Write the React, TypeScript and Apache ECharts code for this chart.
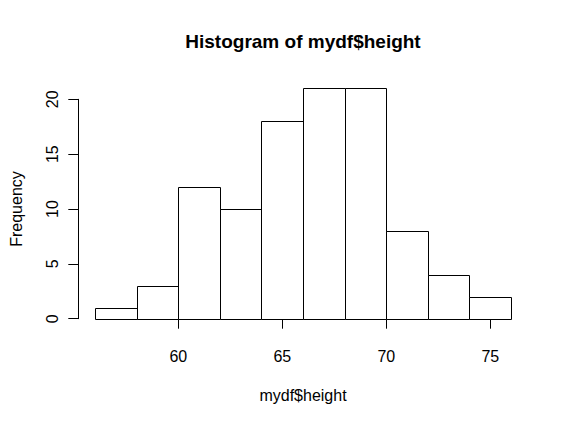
import React, { useEffect, useRef } from "react";
import * as echarts from "echarts";

const binStarts = [56, 58, 60, 62, 64, 66, 68, 70, 72, 74];
const binWidth = 2;
const counts = [1, 3, 12, 10, 18, 21, 21, 8, 4, 2];
const xTicks = [60, 65, 70, 75];
const yTicks = [0, 5, 10, 15, 20];

const FONT = "'Liberation Sans', Arial, Helvetica, sans-serif";

export default function App() {
  const ref = useRef<HTMLDivElement>(null);
  useEffect(() => {
    document.body.style.margin = "0";
    const chart = echarts.init(ref.current!, undefined, { renderer: "svg" });
    const data = binStarts.map((s, i) => [s, s + binWidth, counts[i]]);
    chart.setOption({
      animation: false,
      backgroundColor: "#ffffff",
      textStyle: { fontFamily: FONT, color: "#000" },
      graphic: [
        {
          type: "text",
          x: 303,
          y: 41,
          style: {
            text: "Histogram of mydf$height",
            fontFamily: FONT,
            fontWeight: "bold",
            fontSize: 19,
            fill: "#000",
            textAlign: "center",
            textVerticalAlign: "middle",
          },
        },
      ],
      grid: [
        { left: 95.3, right: 57.3, top: 99.3, bottom: 107.3 },
        { left: 178.3, right: 77.7, top: 99.3, bottom: 107.3 },
      ],
      xAxis: [
        {
          gridIndex: 0,
          type: "value",
          min: 56,
          max: 76,
          show: true,
          axisLine: { show: false },
          axisTick: { show: false },
          axisLabel: { show: false },
          splitLine: { show: false },
          name: "mydf$height",
          nameLocation: "middle",
          nameGap: 69,
          nameTextStyle: { fontFamily: FONT, fontSize: 16, color: "#000" },
        },
        {
          gridIndex: 1,
          type: "value",
          min: xTicks[0],
          max: xTicks[xTicks.length - 1],
          interval: 5,
          offset: 9,
          axisLine: { show: true, lineStyle: { color: "#000", width: 1 } },
          axisTick: { show: true, length: 10, lineStyle: { color: "#000" } },
          axisLabel: { show: true, margin: 21, fontFamily: FONT, fontSize: 16, color: "#000" },
          splitLine: { show: false },
        },
      ],
      yAxis: [
        {
          gridIndex: 0,
          type: "value",
          min: yTicks[0],
          max: yTicks[yTicks.length - 1],
          interval: 5,
          offset: 17,
          axisLine: { show: true, lineStyle: { color: "#000", width: 1 } },
          axisTick: { show: true, length: 10, lineStyle: { color: "#000" } },
          axisLabel: { show: true, rotate: 90, margin: 18, fontFamily: FONT, fontSize: 16, color: "#000" },
          splitLine: { show: false },
          name: "Frequency",
          nameLocation: "middle",
          nameGap: 54,
          nameRotate: 90,
          nameTextStyle: { fontFamily: FONT, fontSize: 16, color: "#000" },
        },
        {
          gridIndex: 1,
          type: "value",
          min: 0,
          max: 20,
          show: false,
        },
      ],
      series: [
        {
          type: "custom",
          xAxisIndex: 0,
          yAxisIndex: 0,
          clip: false,
          data,
          renderItem: (params: any, api: any) => {
            const p0 = api.coord([api.value(0), 0]);
            const p1 = api.coord([api.value(1), api.value(2)]);
            return {
              type: "rect",
              shape: {
                x: Math.round(p0[0]) + 0.5,
                y: Math.round(p1[1]) + 0.5,
                width: Math.round(p1[0]) - Math.round(p0[0]),
                height: Math.round(p0[1]) - Math.round(p1[1]),
              },
              style: { fill: "#fff", stroke: "#000", lineWidth: 1 },
            };
          },
        },
      ],
    });
    return () => chart.dispose();
  }, []);
  return <div ref={ref} style={{ width: 568, height: 426 }} />;
}
